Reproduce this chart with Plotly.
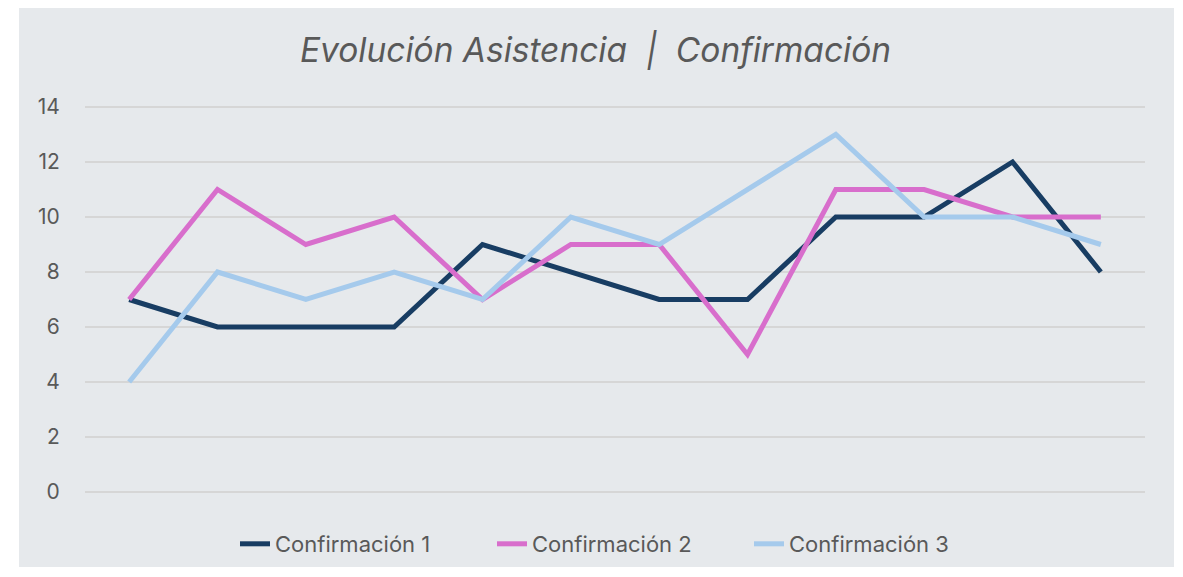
import plotly.graph_objects as go

categories = [str(i) for i in range(1, 13)]
conf1 = [7, 6, 6, 6, 9, 8, 7, 7, 10, 10, 12, 8]
conf2 = [7, 11, 9, 10, 7, 9, 9, 5, 11, 11, 10, 10]
conf3 = [4, 8, 7, 8, 7, 10, 9, 11, 13, 10, 10, 9]
series_names = ["Confirmación 1", "Confirmación 2", "Confirmación 3"]
colors = ["#183D63", "#D86ECC", "#A5CAEC"]
y_ticks = [0, 2, 4, 6, 8, 10, 12, 14]

fig = go.Figure()
for name, vals, col in zip(series_names, [conf1, conf2, conf3], colors):
    fig.add_trace(go.Scatter(
        x=categories, y=vals, mode="lines", name=name,
        line=dict(color=col, width=5),
    ))

OFF = 8  # page offset
W, H = 1183 - OFF, 577 - OFF
ppu = (492 - 107) / 14.0  # pixels per unit
pad = 2
ml = 85 - OFF
mr = (1183 - 1145)
mt = 107 - OFF - pad
mb = (577 - 492) - pad
pw, ph = W - ml - mr, H - mt - mb
x0 = (19 - OFF - ml) / pw
x1 = (1174 - OFF - ml) / pw
y0 = ((H - (567 - OFF)) - mb) / ph
y1 = ((H - 0) - mb) / ph

fig.add_shape(type="rect", xref="paper", yref="paper", x0=x0, x1=x1, y0=y0, y1=y1,
              fillcolor="#E6E9EC", line=dict(width=0), layer="below")

FONT = "Inter, Roboto, sans-serif"
fig.update_layout(
    width=W, height=H,
    margin=dict(l=ml, r=mr, t=mt, b=mb),
    paper_bgcolor="white",
    plot_bgcolor="rgba(0,0,0,0)",
    font=dict(family=FONT, color="#595959"),
    title=dict(
        text="<i>Evolución Asistencia  |  Confirmación</i>",
        x=0.5, xanchor="center", xref="container",
        y=1 - (50 - OFF) / H, yanchor="middle",
        font=dict(size=33.5, color="#595959", family=FONT),
    ),
    showlegend=True,
    legend=dict(
        orientation="h", x=0.5 + 25 / W, xanchor="center", xref="container",
        y=1 - (544 - OFF) / H, yanchor="middle", yref="container",
        font=dict(size=22, color="#595959"),
        bgcolor="rgba(0,0,0,0)",
        itemwidth=30,
        entrywidth=212,
    ),
    xaxis=dict(
        type="category", range=[-0.5, 11.5], showticklabels=False,
        showgrid=False, zeroline=False, showline=False, ticks="",
    ),
    yaxis=dict(
        range=[-pad / ppu, 14 + pad / ppu], tickvals=y_ticks, showgrid=True,
        gridcolor="#D6D6D6", gridwidth=1.5, zeroline=False, showline=False,
        ticks="outside", ticklen=20, tickcolor="rgba(0,0,0,0)",
        tickfont=dict(size=21, color="#595959"),
    ),
)

fig.write_html("out.html")
